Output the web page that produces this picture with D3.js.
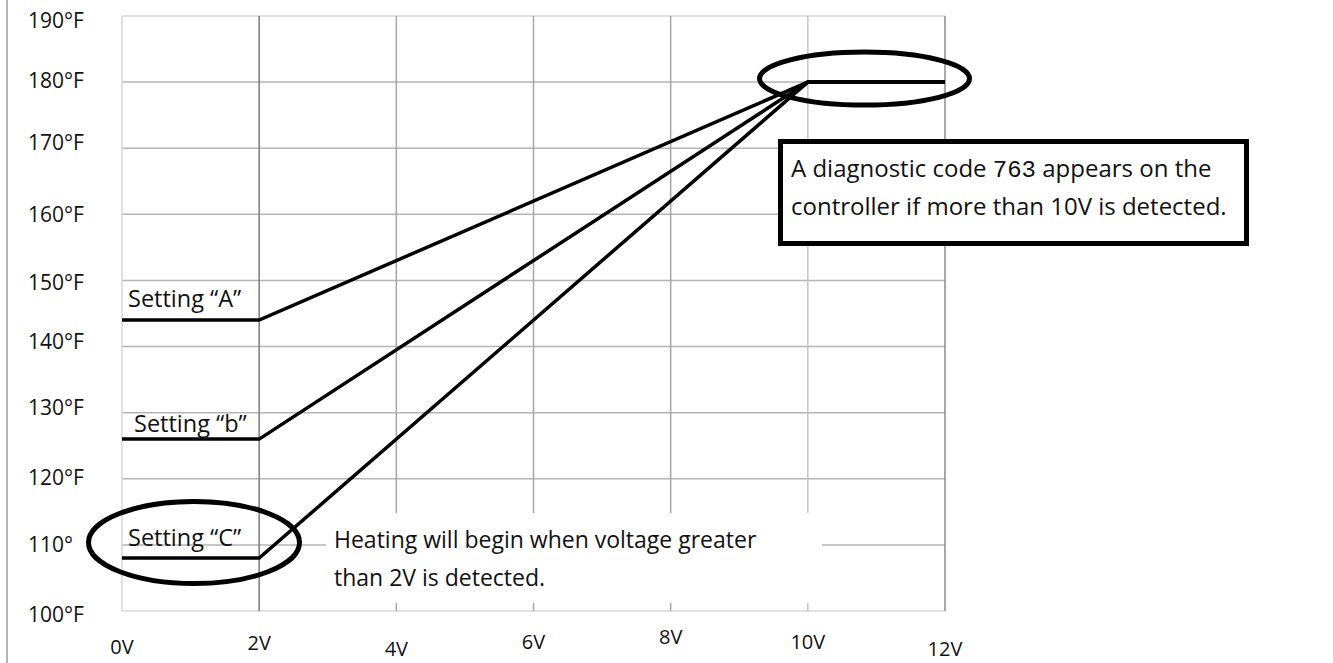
<!DOCTYPE html>
<html>
<head>
<meta charset="utf-8">
<script src="https://cdn.jsdelivr.net/npm/d3@7"></script>
<style>
  html, body { margin: 0; padding: 0; background: #fff; }
  svg { display: block; }
  text { font-family: "Open Sans", Lato, sans-serif; fill: #111; }
</style>
</head>
<body>
<svg id="chart" width="1333" height="663"></svg>
<script>
// Supply voltage (V) at each corner of the response curves
const volts = [0, 2, 10, 12];
// Water temperature (°F) for each controller setting
const settingA = [144, 144, 180, 180];
const settingB = [126, 126, 180, 180];
const settingC = [108, 108, 180, 180];
const seriesNames = ["Setting \u201CA\u201D", "Setting \u201Cb\u201D", "Setting \u201CC\u201D"];

const xTicks = [0, 2, 4, 6, 8, 10, 12];
const xTickLabels = ["0V", "2V", "4V", "6V", "8V", "10V", "12V"];
const yTicks = [100, 110, 120, 130, 140, 150, 160, 170, 180, 190];
const yTickLabels = ["100°F", "110°", "120°F", "130°F", "140°F", "150°F", "160°F", "170°F", "180°F", "190°F"];

const svg = d3.select("#chart");
const x = d3.scaleLinear().domain([0, 12]).range([122, 945]);
const y = d3.scaleLinear().domain([100, 190]).range([611, 16]);

// page frame on the left
svg.append("line").attr("x1", 7).attr("x2", 7).attr("y1", 0).attr("y2", 663)
  .attr("stroke", "#9a9a9a").attr("stroke-width", 1.5);

// horizontal grid
const hColor = v => (v === 100 || v === 190) ? "#d6d6d6" : "#b4b4b4";
svg.append("g").selectAll("line").data(yTicks).join("line")
  .attr("x1", x(0)).attr("x2", x(12))
  .attr("y1", d => y(d)).attr("y2", d => y(d))
  .attr("stroke", hColor).attr("stroke-width", 1.5);

// vertical grid
const vColor = { 0: "#d6d6d6", 2: "#7a7a7a", 4: "#a6a6a6", 6: "#a6a6a6", 8: "#a6a6a6", 10: "#c4c4c4", 12: "#8a8a8a" };
svg.append("g").selectAll("line").data(xTicks).join("line")
  .attr("x1", d => x(d)).attr("x2", d => x(d))
  .attr("y1", y(190)).attr("y2", y(100))
  .attr("stroke", d => vColor[d]).attr("stroke-width", 1.5);

// y tick labels
const yNudge = { 100: 11, 110: 7, 120: 6, 130: 2.5, 140: 2.7, 150: 9.5, 160: 8, 170: 2, 180: 6, 190: 12 };
svg.append("g").selectAll("text").data(yTicks).join("text")
  .attr("x", 28).attr("y", d => y(d) + yNudge[d])
  .attr("font-size", 21)
  .text((d, i) => yTickLabels[i]);

// x tick labels
const xBase = { 0: 654, 2: 650, 4: 656, 6: 649, 8: 644, 10: 649, 12: 656 };
svg.append("g").selectAll("text").data(xTicks).join("text")
  .attr("x", d => x(d)).attr("y", d => xBase[d])
  .attr("text-anchor", "middle").attr("font-size", 20)
  .text((d, i) => xTickLabels[i]);

// white panel behind the heating note
svg.append("rect").attr("x", 326).attr("y", 513).attr("width", 496).attr("height", 90)
  .attr("fill", "#fff");

// response curves
const line = d3.line().x(d => x(d[0])).y(d => y(d[1]));
const series = [settingA, settingB, settingC];
svg.append("g").selectAll("path").data(series).join("path")
  .attr("d", s => line(volts.map((v, i) => [v, s[i]])))
  .attr("fill", "none").attr("stroke", "#000").attr("stroke-width", 3.5)
  .attr("stroke-linejoin", "miter");

// series labels
const labelPos = [[128, -13], [134, -7], [128, -12]];
svg.append("g").selectAll("text").data(series).join("text")
  .attr("x", (s, i) => labelPos[i][0])
  .attr("y", (s, i) => y(s[0]) + labelPos[i][1])
  .attr("font-size", 23.5)
  .text((s, i) => seriesNames[i]);

// highlight ellipses
svg.append("ellipse").attr("cx", 864.5).attr("cy", y(180) - 3.5).attr("rx", 105).attr("ry", 26.5)
  .attr("fill", "none").attr("stroke", "#000").attr("stroke-width", 5);
svg.append("ellipse").attr("cx", 194).attr("cy", 542.5).attr("rx", 105.5).attr("ry", 41)
  .attr("fill", "none").attr("stroke", "#000").attr("stroke-width", 5);

// heating note
const note = svg.append("text").attr("x", 334).attr("font-size", 23);
note.append("tspan").attr("x", 334).attr("y", 548).text("Heating will begin when voltage greater");
note.append("tspan").attr("x", 334).attr("y", 586).text("than 2V is detected.");

// diagnostic callout
svg.append("rect").attr("x", 780.5).attr("y", 141.5).attr("width", 466).attr("height", 102)
  .attr("fill", "#fff").attr("stroke", "#000").attr("stroke-width", 5);
const diag = svg.append("text").attr("font-size", 24);
const l1 = diag.append("tspan").attr("x", 791).attr("y", 177);
l1.append("tspan").text("A diagnostic code ");
l1.append("tspan").attr("font-family", "Liberation Mono").text("763");
l1.append("tspan").text(" appears on the");
diag.append("tspan").attr("x", 791).attr("y", 215).text("controller if more than 10V is detected.");
</script>
</body>
</html>
